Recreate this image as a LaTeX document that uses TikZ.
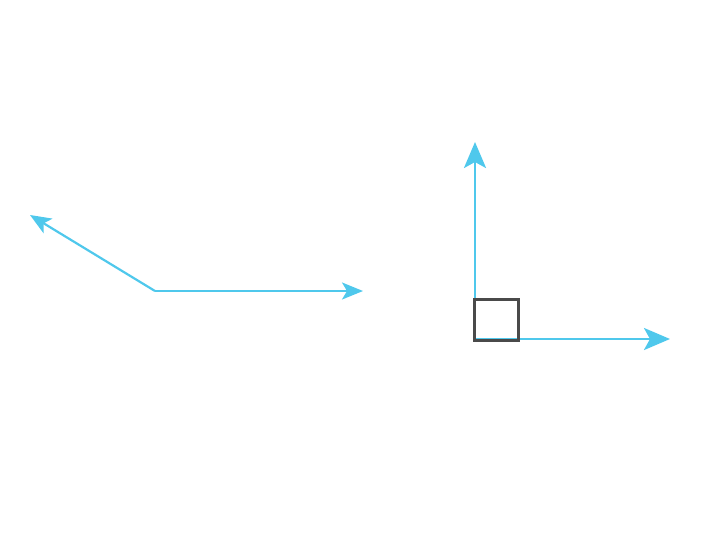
\documentclass[tikz,border=0pt]{standalone}
\usetikzlibrary{arrows.meta}
\definecolor{vecblue}{HTML}{4FC8EC}
\definecolor{boxgray}{HTML}{4A4A4A}
\tikzset{
  vec/.style={draw=vecblue, line width=2.2pt, -{Stealth[length=21pt,width=17pt,inset=5pt]}},
  bigvec/.style={vec, line width=2.8pt, -{Stealth[length=26pt,width=22pt,inset=6pt]}},
  rightangle/.style={draw=boxgray, line width=3pt}
}
\begin{document}
\begin{tikzpicture}[x=1pt,y=-1pt]
        \useasboundingbox (0,0) rectangle (719,538);
        % obtuse pair
        \coordinate (O1) at (155,291);
        \coordinate (E1) at (363,291);
        \coordinate (W1) at (30,215);
        \draw[vec] (O1) -- (E1);
        \draw[vec] (O1) -- (W1);
        % perpendicular pair
        \coordinate (O2) at (475,339);
        \coordinate (N2) at (475,142);
        \coordinate (E2) at (670,339);
        \draw[bigvec] (O2) -- (N2);
        \draw[bigvec] (O2) -- (E2);
        \draw[rightangle] (474,299) rectangle (518,340);
\end{tikzpicture}
\end{document}
